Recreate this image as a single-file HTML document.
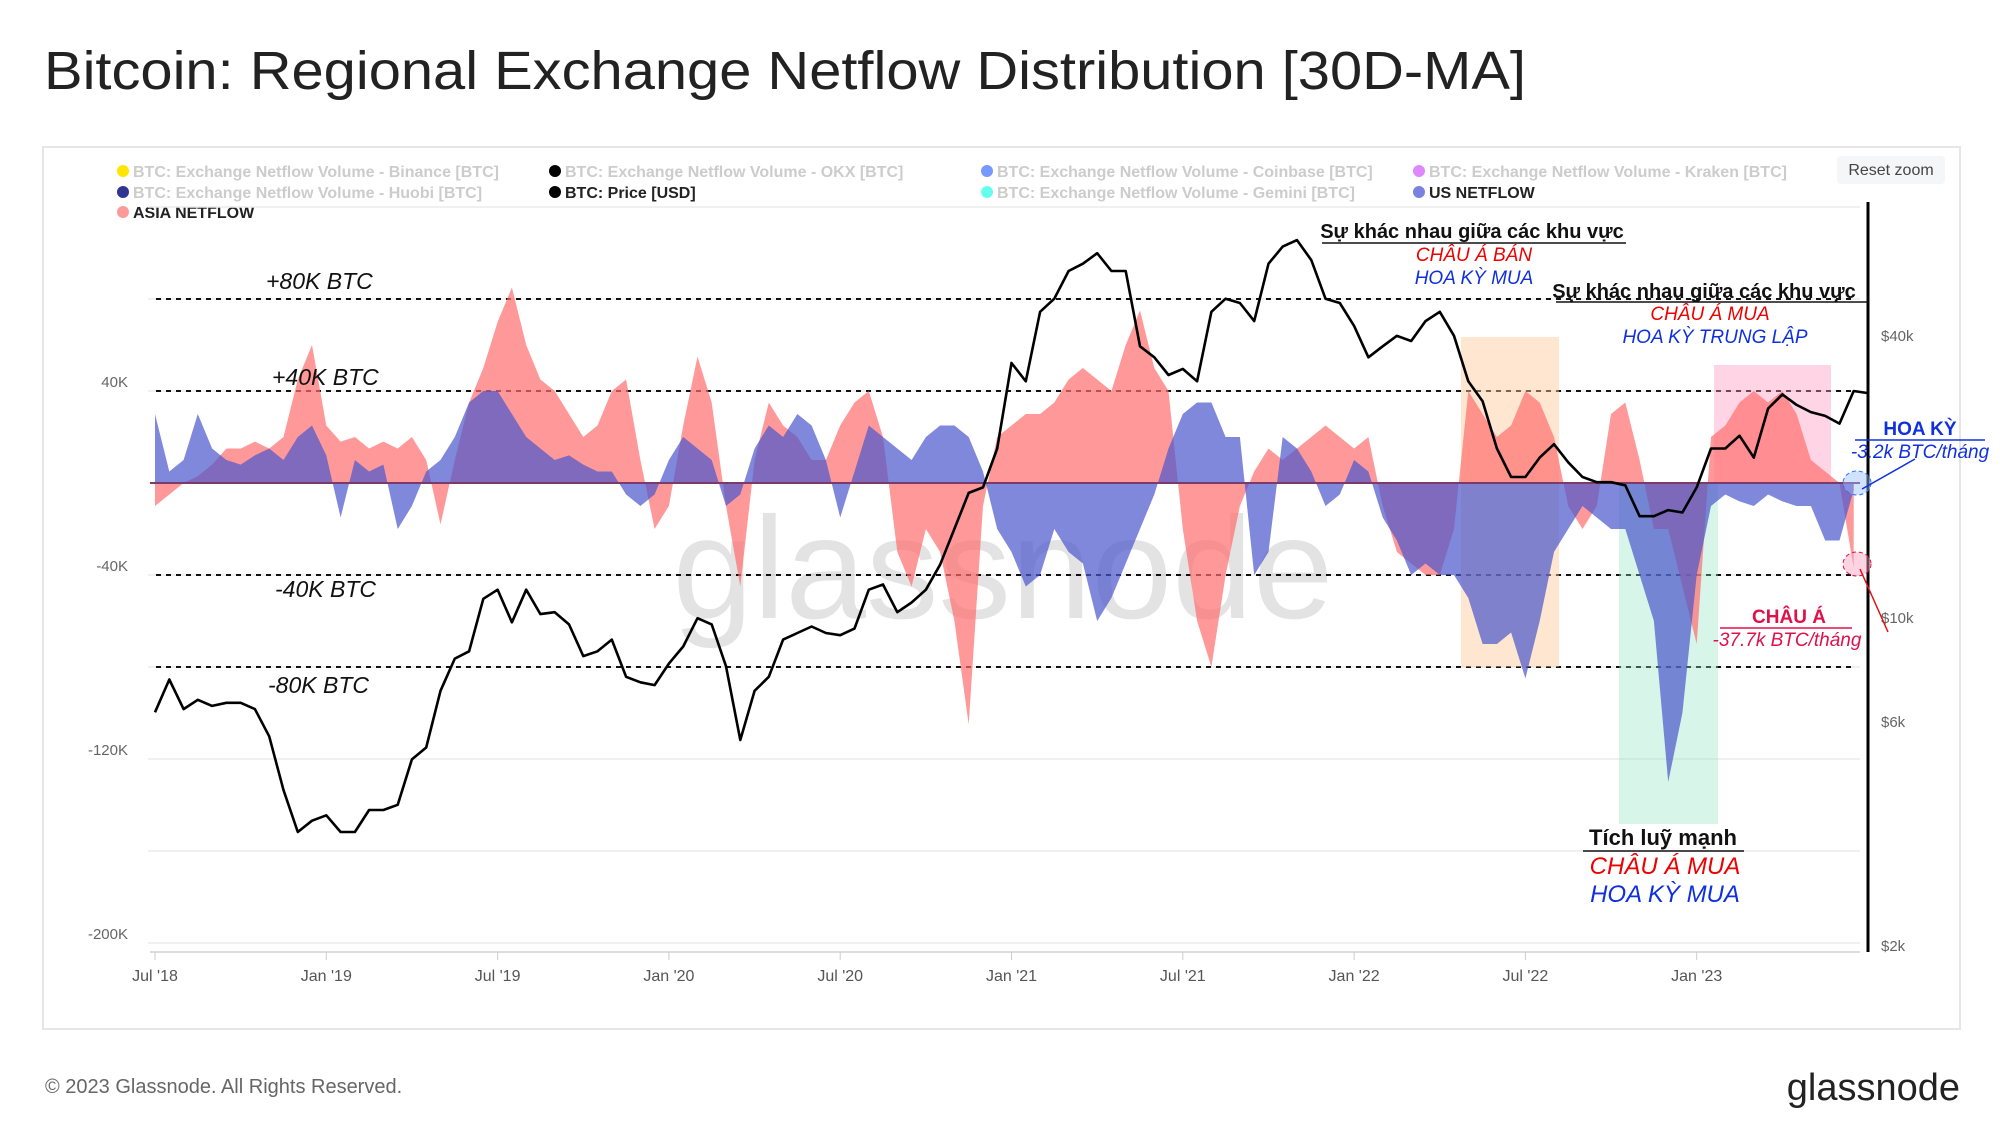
<!DOCTYPE html>
<html><head><meta charset="utf-8"><style>
body{margin:0;background:#fff;}
svg text{font-family:"Liberation Sans","Noto Sans CJK SC",sans-serif;}
</style></head><body>
<svg width="2000" height="1143" viewBox="0 0 2000 1143" xmlns="http://www.w3.org/2000/svg">
<text x="44" y="89" font-size="54" textLength="1482" lengthAdjust="spacingAndGlyphs" fill="#222">Bitcoin: Regional Exchange Netflow Distribution [30D-MA]</text>
<rect x="43" y="147" width="1917" height="882" fill="#fff" stroke="#e6e6e6" stroke-width="2"/>
<g id="legend" font-size="16" font-weight="bold">
<circle cx="123" cy="171" r="6" fill="#ffe600"/><text x="133" y="177" fill="#ccc">BTC: Exchange Netflow Volume - Binance [BTC]</text>
<circle cx="555" cy="171" r="6" fill="#000"/><text x="565" y="177" fill="#ccc">BTC: Exchange Netflow Volume - OKX [BTC]</text>
<circle cx="987" cy="171" r="6" fill="#7799ff"/><text x="997" y="177" fill="#ccc">BTC: Exchange Netflow Volume - Coinbase [BTC]</text>
<circle cx="1419" cy="171" r="6" fill="#dd88ff"/><text x="1429" y="177" fill="#ccc">BTC: Exchange Netflow Volume - Kraken [BTC]</text>
<circle cx="123" cy="192" r="6" fill="#2f3590"/><text x="133" y="198" fill="#ccc">BTC: Exchange Netflow Volume - Huobi [BTC]</text>
<circle cx="555" cy="192" r="6" fill="#000"/><text x="565" y="198" fill="#222">BTC: Price [USD]</text>
<circle cx="987" cy="192" r="6" fill="#66ffee"/><text x="997" y="198" fill="#ccc">BTC: Exchange Netflow Volume - Gemini [BTC]</text>
<circle cx="1419" cy="192" r="6" fill="#7a82e0"/><text x="1429" y="198" fill="#222">US NETFLOW</text>
<circle cx="123" cy="212" r="6" fill="#ff9a9a"/><text x="133" y="218" fill="#222">ASIA NETFLOW</text>
</g>
<g><rect x="1837" y="156" width="108" height="28" rx="4" fill="#f5f6f8"/><text x="1891" y="175" font-size="16" fill="#444" text-anchor="middle">Reset zoom</text></g>
<g id="grid"></g>
<rect x="1461" y="337" width="98" height="330" fill="rgba(255,200,150,0.45)"/>
<rect x="1619" y="484" width="99" height="340" fill="rgba(140,225,190,0.35)"/>
<rect x="1714" y="365" width="117" height="119" fill="rgba(255,150,190,0.4)"/>
<text x="1003" y="618" font-size="145" fill="rgba(0,0,0,0.11)" text-anchor="middle">glassnode</text>
<g id="series"></g>
<g id="axes"></g>
<line x1="1868" y1="202" x2="1868" y2="952" stroke="#000" stroke-width="3"/>
<g font-style="italic">
<text x="266" y="289" font-size="23" fill="#111">+80K BTC</text>
<text x="272" y="385" font-size="23" fill="#111">+40K BTC</text>
<text x="275" y="597" font-size="23" fill="#111">-40K BTC</text>
<text x="268" y="693" font-size="23" fill="#111">-80K BTC</text>
<text x="1472" y="238" font-size="20" font-weight="bold" font-style="normal" fill="#111" text-anchor="middle">Sự khác nhau giữa các khu vực</text>
<line x1="1322" y1="243" x2="1626" y2="243" stroke="#111" stroke-width="1.5"/>
<text x="1474" y="261" font-size="19" fill="#e00" text-anchor="middle">CHÂU Á BÁN</text>
<text x="1474" y="284" font-size="19" fill="#1030e0" text-anchor="middle">HOA KỲ MUA</text>
<text x="1704" y="298" font-size="20" font-weight="bold" font-style="normal" fill="#111" text-anchor="middle">Sự khác nhau giữa các khu vực</text>
<line x1="1556" y1="302" x2="1868" y2="302" stroke="#111" stroke-width="1.5"/>
<text x="1710" y="320" font-size="19" fill="#e00" text-anchor="middle">CHÂU Á MUA</text>
<text x="1715" y="343" font-size="19" fill="#1030e0" text-anchor="middle">HOA KỲ TRUNG LẬP</text>
<text x="1663" y="845" font-size="22" font-weight="bold" font-style="normal" fill="#111" text-anchor="middle">Tích luỹ mạnh</text>
<line x1="1583" y1="851" x2="1744" y2="851" stroke="#111" stroke-width="1.5"/>
<text x="1665" y="874" font-size="24" fill="#e00" text-anchor="middle">CHÂU Á MUA</text>
<text x="1665" y="902" font-size="24" fill="#1030e0" text-anchor="middle">HOA KỲ MUA</text>
<text x="1920" y="435" font-size="19" font-weight="bold" font-style="normal" fill="#1030e0" text-anchor="middle">HOA KỲ</text>
<line x1="1855" y1="440" x2="1985" y2="440" stroke="#1030e0" stroke-width="1.5"/>
<text x="1920" y="458" font-size="19" fill="#1030e0" text-anchor="middle">-3.2k BTC/tháng</text>
<text x="1789" y="623" font-size="19" font-weight="bold" font-style="normal" fill="#e0104a" text-anchor="middle">CHÂU Á</text>
<line x1="1720" y1="628" x2="1852" y2="628" stroke="#e0104a" stroke-width="1.5"/>
<text x="1787" y="646" font-size="19" fill="#e0104a" text-anchor="middle">-37.7k BTC/tháng</text>
<ellipse cx="1857" cy="483" rx="14" ry="12" fill="rgba(150,190,255,0.45)" stroke="#3070ff" stroke-dasharray="4,3"/>
<line x1="1862" y1="489" x2="1915" y2="459" stroke="#1030e0" stroke-width="1.5"/>
<ellipse cx="1857" cy="564" rx="14" ry="12" fill="rgba(255,160,190,0.45)" stroke="#e0104a" stroke-dasharray="4,3"/>
<line x1="1860" y1="569" x2="1888" y2="632" stroke="#e01010" stroke-width="1.5"/>
</g>
<text x="45" y="1093" font-size="20" fill="#666">© 2023 Glassnode. All Rights Reserved.</text>
<text x="1960" y="1100" font-size="38" fill="#222" text-anchor="end">glassnode</text>
</svg>
<script>
const asiaNetflowK=[-10,-5,0,3,8,15,15,18,15,20,45,60,25,18,20,15,18,15,20,10,-18,10,35,50,70,85,60,45,40,30,20,25,40,45,10,-20,-10,25,55,35,-10,-45,10,35,25,20,10,10,25,35,40,20,-30,-45,-20,-30,-60,-105,-10,20,25,30,30,35,45,50,45,40,60,75,50,40,-20,-60,-80,-40,-10,5,15,10,15,20,25,20,15,20,-10,-30,-35,-40,-40,-20,40,30,20,25,40,35,20,-10,-20,-10,30,35,10,-20,-20,-45,-70,20,25,35,40,35,40,30,10,5,0,-37];
const usNetflowK=[30,5,10,30,15,10,8,12,15,10,20,25,12,-15,10,5,8,-20,-10,5,10,20,35,40,40,30,20,15,10,12,8,5,5,-5,-10,-5,10,20,15,10,-10,-5,15,25,20,30,25,10,-15,5,25,20,15,10,20,25,25,20,5,-20,-30,-45,-40,-20,-30,-35,-60,-50,-35,-20,-5,15,30,35,35,20,20,-40,-30,20,15,5,-10,-5,10,5,-15,-25,-40,-35,-40,-40,-50,-70,-70,-65,-85,-60,-30,-20,-10,-15,-20,-20,-40,-60,-130,-100,-40,-10,-5,-8,-10,-5,-8,-10,-10,-25,-25,-3];
const priceUSD=[6300,7400,6400,6700,6500,6600,6600,6400,5600,4300,3500,3700,3800,3500,3500,3900,3900,4000,5000,5300,7000,8200,8500,11000,11500,9800,11500,10200,10300,9700,8300,8500,9000,7500,7300,7200,8000,8700,10000,9700,7900,5500,7000,7500,9000,9300,9600,9300,9200,9500,11500,11800,10300,10800,11500,13000,15500,18500,19000,23000,35000,32000,45000,48000,55000,57000,60000,55000,55000,38000,36000,33000,34000,32000,45000,48000,47000,43000,57000,62000,64000,58000,48000,47000,42000,36000,38000,40000,39000,43000,45000,40000,32000,29000,23000,20000,20000,22000,23500,21500,20000,19500,19500,19200,16500,16500,17000,16800,19000,23000,23000,24500,22000,28000,30000,28500,27500,27000,26000,30500,30200];
const leftTicks=[40,-40,-120,-200];
const leftTickLabels=["40K","-40K","-120K","-200K"];
const rightTicks=[40000,10000,6000,2000];
const rightTickLabels=["$40k","$10k","$6k","$2k"];
const xTickLabels=["Jul '18","Jan '19","Jul '19","Jan '20","Jul '20","Jan '21","Jul '21","Jan '22","Jul '22","Jan '23"];
const dashedLevels=[80,40,-40,-80];

const NS="http://www.w3.org/2000/svg";
const X0=155, STEP=14.275, HALFYEAR=171.3;
function xAt(i){return X0+i*STEP;}
function yFlow(k){return 483-k*2.3;}
function yPrice(p){return 946-469*Math.log10(p/2000);}
function mk(tag,attrs,parent){const e=document.createElementNS(NS,tag);for(const k in attrs)e.setAttribute(k,attrs[k]);parent.appendChild(e);return e;}
const grid=document.getElementById('grid'),series=document.getElementById('series'),axes=document.getElementById('axes');
for(let v=120;v>=-200;v-=40){const l=mk('line',{x1:148,x2:1860,y1:yFlow(v),y2:yFlow(v),stroke:'#ececec','stroke-width':1.5},grid);

}
dashedLevels.forEach(v=>{const l=mk('line',{x1:156,x2:1855,y1:yFlow(v),y2:yFlow(v),stroke:'#111','stroke-width':2,'stroke-dasharray':'5,5'},grid);

});
function areaPath(arr){let d='M'+xAt(0)+','+yFlow(0);arr.forEach((v,i)=>{d+=' L'+xAt(i).toFixed(1)+','+yFlow(v).toFixed(1);});d+=' L'+xAt(arr.length-1)+','+yFlow(0)+' Z';return d;}
const asia=mk('path',{d:areaPath(asiaNetflowK),fill:'#ff6e6e','fill-opacity':0.7},series);


const us=mk('path',{d:areaPath(usNetflowK),fill:'#4a55cc','fill-opacity':0.7},series);


const zl=mk('line',{x1:150,x2:1860,y1:yFlow(0),y2:yFlow(0),stroke:'#7a3a6a','stroke-width':2},series);


let pd='';priceUSD.forEach((p,i)=>{pd+=(i?' L':'M')+xAt(i).toFixed(1)+','+yPrice(p).toFixed(1);});
const pl=mk('path',{d:pd,fill:'none',stroke:'#000','stroke-width':2.6,'stroke-linejoin':'round'},series);


const base=mk('line',{x1:150,x2:1860,y1:952,y2:952,stroke:'#ddd','stroke-width':2},axes);


leftTicks.forEach((v,i)=>{const t=mk('text',{x:128,y:yFlow(v)-4,'font-size':15,fill:'#666','text-anchor':'end'},axes);t.textContent=leftTickLabels[i];

});
rightTicks.forEach((v,i)=>{const t=mk('text',{x:1881,y:yPrice(v)+5,'font-size':15,fill:'#666'},axes);t.textContent=rightTickLabels[i];

});
xTickLabels.forEach((s,i)=>{const x=X0+i*HALFYEAR;const t=mk('text',{x:x,y:981,'font-size':16,fill:'#555','text-anchor':'middle'},axes);t.textContent=s;


const tk=mk('line',{x1:x,x2:x,y1:952,y2:960,stroke:'#ccc'},axes);

});
</script>
</body></html>
